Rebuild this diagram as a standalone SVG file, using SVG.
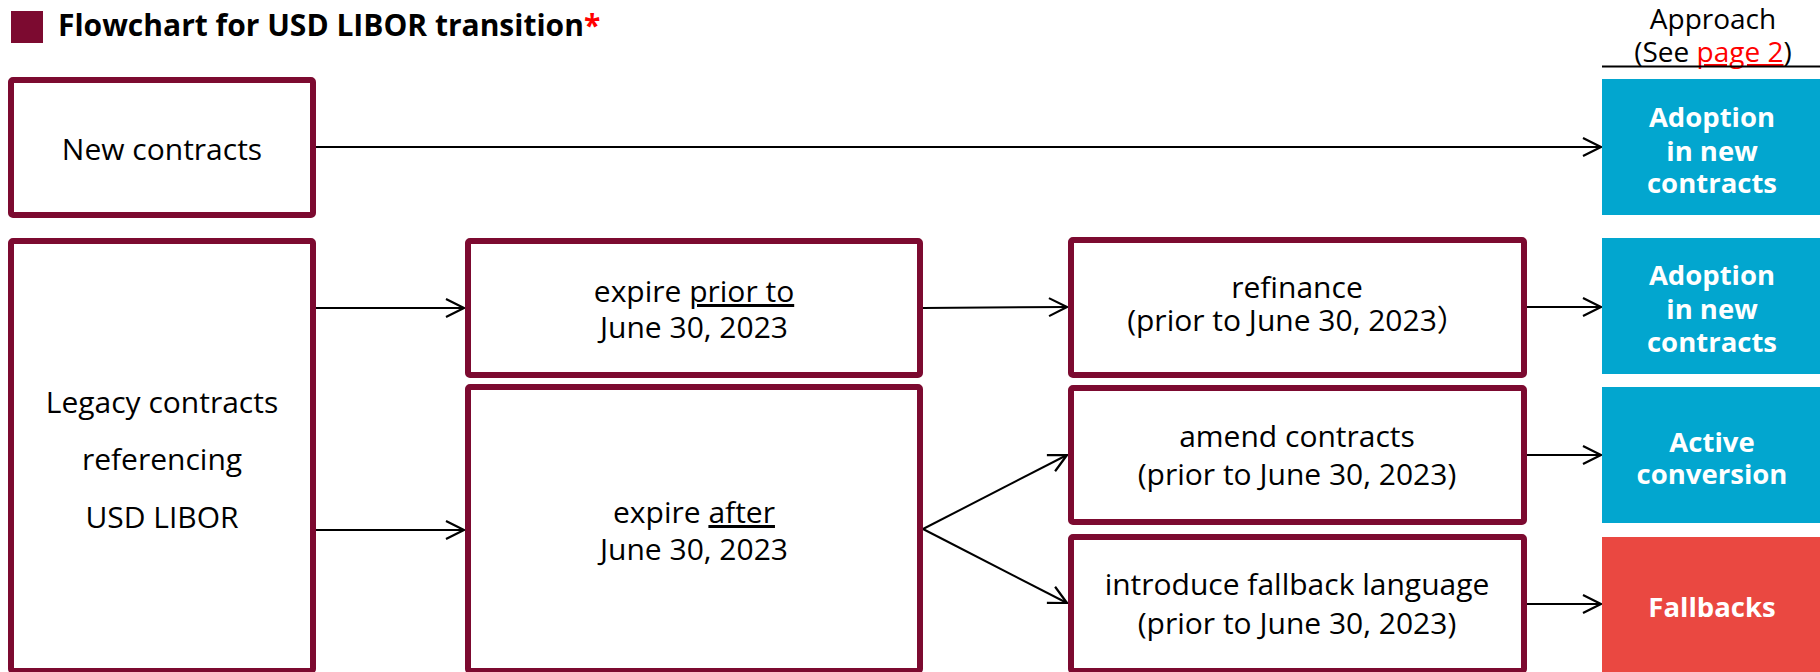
<svg xmlns="http://www.w3.org/2000/svg" width="1820" height="672" viewBox="0 0 1820 672">
  <defs>
    <style>
      .box { fill: #ffffff; stroke: #7c0a30; stroke-width: 6; }
      .out-blue { fill: #02a6cf; }
      .out-red { fill: #ea4841; }
      .txt { font-family: "Open Sans", "Noto Sans", "Noto Sans CJK JP", sans-serif; fill: #000000; text-anchor: middle; }
      .lbl { font-size: 30px; }
      .big { font-size: 30px; }
      .out { font-family: "Open Sans", "Noto Sans", sans-serif; font-weight: bold; font-size: 27.5px; fill: #ffffff; text-anchor: middle; }
      .conn { stroke: #000000; stroke-width: 2; fill: none; }
    </style>
    <marker id="arrow" markerUnits="userSpaceOnUse" markerWidth="24" markerHeight="24" viewBox="-20 -12 24 24" refX="0" refY="0" orient="auto">
      <path d="M -18 -9 L 0 0 L -18 9" fill="none" stroke="#000000" stroke-width="2.2"/>
    </marker>
  </defs>

  <rect width="1820" height="672" fill="#ffffff"/>

  <!-- title -->
  <g id="title">
    <rect x="11" y="11" width="32" height="32" fill="#7c0a30"/>
    <text x="58" y="36" font-family="Open Sans, Noto Sans, sans-serif" font-weight="bold" font-size="30" fill="#000000">Flowchart for USD LIBOR transition<tspan fill="#ff0000">*</tspan></text>
  </g>

  <!-- approach column header -->
  <g id="approach-header">
    <text class="txt" x="1713" y="29" font-size="28">Approach</text>
    <text class="txt" x="1713" y="62" font-size="28">(See <tspan fill="#ff0000" text-decoration="underline">page 2</tspan>)</text>
    <line x1="1602" y1="66.5" x2="1820" y2="66.5" stroke="#000000" stroke-width="2"/>
  </g>

  <!-- connectors -->
  <g id="connectors">
    <line class="conn" x1="316" y1="147" x2="1601" y2="147" marker-end="url(#arrow)"/>
    <line class="conn" x1="316" y1="308" x2="464" y2="308" marker-end="url(#arrow)"/>
    <line class="conn" x1="316" y1="530" x2="464" y2="530" marker-end="url(#arrow)"/>
    <line class="conn" x1="923" y1="308" x2="1067" y2="307" marker-end="url(#arrow)"/>
    <line class="conn" x1="1527" y1="307" x2="1601" y2="307" marker-end="url(#arrow)"/>
    <line class="conn" x1="923" y1="529" x2="1067" y2="455" marker-end="url(#arrow)"/>
    <line class="conn" x1="923" y1="529" x2="1067" y2="603" marker-end="url(#arrow)"/>
    <line class="conn" x1="1527" y1="455" x2="1601" y2="455" marker-end="url(#arrow)"/>
    <line class="conn" x1="1527" y1="604" x2="1601" y2="604" marker-end="url(#arrow)"/>
  </g>

  <!-- source contracts -->
  <g id="new-contracts">
    <rect class="box" x="11" y="80" width="302" height="135" rx="2"/>
    <text class="txt big" x="162" y="160">New contracts</text>
  </g>

  <g id="legacy-contracts">
    <rect class="box" x="11" y="241" width="302" height="430" rx="2"/>
    <text class="txt big" x="162" y="413">Legacy contracts</text>
    <text class="txt big" x="162" y="470">referencing</text>
    <text class="txt big" x="162" y="528">USD LIBOR</text>
  </g>

  <!-- expiry split -->
  <g id="expire-prior">
    <rect class="box" x="468" y="241" width="452" height="134" rx="2"/>
    <text class="txt big" x="694" y="302">expire <tspan text-decoration="underline">prior to</tspan></text>
    <text class="txt big" x="694" y="338">June 30, 2023</text>
  </g>

  <g id="expire-after">
    <rect class="box" x="468" y="387" width="452" height="284" rx="2"/>
    <text class="txt big" x="694" y="523">expire <tspan text-decoration="underline">after</tspan></text>
    <text class="txt big" x="694" y="560">June 30, 2023</text>
  </g>

  <!-- actions -->
  <g id="refinance">
    <rect class="box" x="1071" y="240" width="453" height="135" rx="2"/>
    <text class="txt lbl" x="1297" y="298">refinance</text>
    <text class="txt lbl" x="1297" y="331">(prior to June 30, 2023）</text>
  </g>

  <g id="amend-contracts">
    <rect class="box" x="1071" y="388" width="453" height="134" rx="2"/>
    <text class="txt lbl" x="1297" y="447">amend contracts</text>
    <text class="txt lbl" x="1297" y="485">(prior to June 30, 2023)</text>
  </g>

  <g id="fallback-language">
    <rect class="box" x="1071" y="537" width="453" height="134" rx="2"/>
    <text class="txt lbl" x="1297" y="595">introduce fallback language</text>
    <text class="txt lbl" x="1297" y="634">(prior to June 30, 2023)</text>
  </g>

  <!-- approaches -->
  <g id="adoption-new">
    <rect class="out-blue" x="1602" y="79" width="218" height="136"/>
    <text class="out" x="1712" y="127">Adoption</text>
    <text class="out" x="1712" y="161">in new</text>
    <text class="out" x="1712" y="193">contracts</text>
  </g>

  <g id="adoption-refinance">
    <rect class="out-blue" x="1602" y="238" width="218" height="136"/>
    <text class="out" x="1712" y="285">Adoption</text>
    <text class="out" x="1712" y="319">in new</text>
    <text class="out" x="1712" y="352">contracts</text>
  </g>

  <g id="active-conversion">
    <rect class="out-blue" x="1602" y="387" width="218" height="136"/>
    <text class="out" x="1712" y="452">Active</text>
    <text class="out" x="1712" y="484">conversion</text>
  </g>

  <g id="fallbacks">
    <rect class="out-red" x="1602" y="537" width="218" height="135"/>
    <text class="out" x="1712" y="617">Fallbacks</text>
  </g>
</svg>
